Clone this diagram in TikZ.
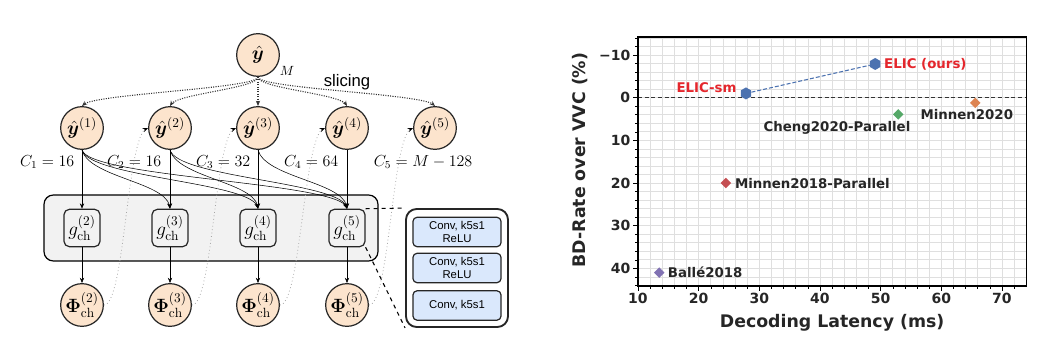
\documentclass[tikz,border=0pt]{standalone}
\usepackage{bm}
\usepackage{fontspec}
\newfontfamily\plotfont{DejaVu Sans}
\newfontfamily\labelfont{Liberation Sans}
\usetikzlibrary{arrows.meta, bending, shapes.geometric}

\definecolor{peach}{RGB}{252,228,205}
\definecolor{panelgray}{RGB}{242,242,242}
\definecolor{convblue}{RGB}{218,232,252}
\definecolor{plottext}{RGB}{38,38,38}
\definecolor{elicred}{RGB}{228,38,44}
\definecolor{sbblue}{RGB}{76,114,176}
\definecolor{sbgreen}{RGB}{85,168,104}
\definecolor{sborange}{RGB}{221,132,82}
\definecolor{sbred}{RGB}{196,78,82}
\definecolor{sbpurple}{RGB}{129,114,179}

\tikzset{
  latent/.style={circle, draw=black!85, line width=0.9pt, fill=peach, minimum size=32pt, inner sep=0pt, font=\Large},
  gfun/.style={draw=black!85, line width=0.9pt, rounded corners=4pt, fill=panelgray, minimum width=27pt, minimum height=28pt, inner sep=0pt, font=\Large},
  convbox/.style={draw=black!85, line width=0.9pt, rounded corners=3pt, fill=convblue, minimum width=66pt, minimum height=22pt, inner sep=1pt, align=center, font=\labelfont\fontsize{8.5}{9.5}\selectfont},
  sliceline/.style={densely dotted, thick, black!80},
  ctxline/.style={dotted, gray!70, semithick},
  gridline/.style={gray!25, line width=0.5pt},
  ticklabel/.style={font=\plotfont\bfseries\fontsize{10.5}{12}\selectfont, text=plottext, inner sep=2pt},
  pointlabel/.style={font=\plotfont\bfseries\fontsize{10}{12}\selectfont, text=plottext, inner sep=0pt},
  axistitle/.style={font=\plotfont\bfseries\fontsize{13}{15}\selectfont, text=plottext},
  hexmark/.style={regular polygon, regular polygon sides=6, shape border rotate=30, fill=#1, minimum size=9pt, inner sep=0pt},
  diamark/.style={diamond, fill=#1, minimum size=8pt, inner sep=0pt},
}

\begin{document}
\begin{tikzpicture}[>={Stealth[length=4pt, width=3.2pt]}, x=0.75pt, y=-0.75pt]
    \useasboundingbox (0,0) rectangle (1054,359);

    % Latent and its slices
    \node[latent] (yhat) at (258,55) {$\hat{\bm{y}}$};
    \node (mlab) at (287,71) {$M$};
    \node[font=\labelfont\fontsize{12.5}{14}\selectfont] (slicing) at (347,82) {slicing};

    \foreach \i/\x in {1/82, 2/170, 3/258, 4/347, 5/435}
        \node[latent] (y\i) at (\x,128) {$\hat{\bm{y}}^{(\i)}$};

    % Channel numbers
    \node[font=\large, anchor=east] (c1) at (79,162) {$C_1 = 16$};
    \node[font=\large, anchor=east] (c2) at (166,162) {$C_2 = 16$};
    \node[font=\large, anchor=east] (c3) at (255,162) {$C_3 = 32$};
    \node[font=\large, anchor=east] (c4) at (343,162) {$C_4 = 64$};
    \node[font=\large] (c5) at (423,162) {$C_5 = M - 128$};

    % Channel context panel
    \draw[line width=0.9pt, fill=panelgray, rounded corners=7pt] (44,195) rectangle (378,261);

    \foreach \k/\x in {2/82, 3/170, 4/258, 5/347} {
        \node[gfun] (g\k) at (\x,228) {$g_{\mathrm{ch}}^{(\k)}$};
        \node[latent] (phi\k) at (\x,305) {$\bm{\Phi}_{\mathrm{ch}}^{(\k)}$};
        \draw[->] (g\k) -- (phi\k);
    }

    % Slicing arrows
    \foreach \i in {1,2,4,5}
        \draw[sliceline, ->] (yhat.south) to[out=-90, in=90, out distance=9pt, in distance=9pt] (y\i.north);
    \draw[sliceline, ->] (yhat) -- (y3);

    % Decoded slices into the context models
    \foreach \i/\k in {1/2, 2/3, 3/4, 4/5}
        \draw[->] (y\i) -- (g\k);
    \foreach \i/\k in {1/3, 1/4, 1/5, 2/4, 2/5, 3/5}
        \draw[->] (y\i.south) to[out=-75, in=90, out distance=22pt, in distance=20pt] (g\k.north);

    % Context parameters back to the slices
    \foreach \k in {2,...,5}
        \draw[ctxline, -{Stealth[length=4pt, width=3.2pt, color=black]}] (phi\k.east) to[out=0, in=180, out distance=16pt, in distance=16pt] (y\k.west);

    % Inside g_ch
    \node[draw=black!85, line width=1.4pt, rounded corners=8pt, minimum width=76.5pt, minimum height=88.5pt, fill=white] (gblock) at (457,268) {};
    \node[convbox] (conv1) at (457,232) {Conv, k5s1\\ReLU};
    \node[convbox] (conv2) at (457,268) {Conv, k5s1\\ReLU};
    \node[convbox] (conv3) at (457,305.5) {Conv, k5s1};
    \draw[dashed, thick] (g5.north east) -- (gblock.north west);
    \draw[dashed, thick] (g5.south east) -- (gblock.south west);

    % Rate vs latency plot
    \begin{scope}[shift={(577.3,97.7)}, x=4.55pt, y=-3.2pt]
        % Grid
        \foreach \gx in {12,14,...,72}
            \draw[gridline] (\gx,-14.2) -- (\gx,44.1);
        \foreach \gy in {-14,-12,...,44}
            \draw[gridline] (10,\gy) -- (74,\gy);

        % VVC line
        \draw[black!80, line width=1pt, dash pattern=on 3pt off 2pt] (10,0) -- (74,0);

        % Minor ticks
        \foreach \gx in {12,14,...,72}
            \draw[thin] (\gx,44.1) -- ++(0pt,-2pt);
        \foreach \gy in {-14,-12,...,44}
            \draw[thin] (10,\gy) -- ++(-2pt,0pt);

        % Major ticks
        \foreach \tx in {10,20,...,70}
            \draw[semithick] (\tx,44.1) -- ++(0pt,-3.5pt) node[below, ticklabel] {\tx};
        \foreach \ty/\tl in {-10/−10, 0/0, 10/10, 20/20, 30/30, 40/40}
            \draw[semithick] (10,\ty) -- ++(-3.5pt,0pt) node[left, ticklabel] {\tl};

        % Axes box
        \draw[line width=1.1pt] (10,-14.2) rectangle (74,44.1);

        % Methods
        \node[diamark=sbpurple] (balle) at (13.5,41) {};
        \node[diamark=sbred] (minnen18) at (24.5,20) {};
        \node[diamark=sbgreen] (cheng) at (52.9,3.9) {};
        \node[diamark=sborange] (minnen20) at (65.6,1.2) {};
        \node[hexmark=sbblue] (elicsm) at (27.8,-1) {};
        \node[hexmark=sbblue] (elic) at (49.1,-7.9) {};
        \draw[sbblue, line width=0.8pt, dash pattern=on 3pt off 1.5pt] (elicsm) -- (elic);

        \node[pointlabel, text=elicred, anchor=west] (eliclab) at (50.55,-7.9) {ELIC (ours)};
        \node[pointlabel, text=elicred, anchor=east] (elicsmlab) at (26.3,-2.3) {ELIC-sm};
        \node[pointlabel] (chenglab) at (42.8,7.1) {Cheng2020-Parallel};
        \node[pointlabel] (minnen20lab) at (64.2,4.05) {Minnen2020};
        \node[pointlabel, anchor=west] (minnen18lab) at (25.95,20) {Minnen2018-Parallel};
        \node[pointlabel, anchor=west] (ballelab) at (14.9,40.8) {Ballé2018};

        % Axis titles
        \node[axistitle] (xtitle) at (42,52.8) {Decoding Latency (ms)};
        \node[axistitle, rotate=90] (ytitle) at (0.45,14.6) {BD-Rate over VVC (\%)};
    \end{scope}

\end{tikzpicture}
\end{document}
